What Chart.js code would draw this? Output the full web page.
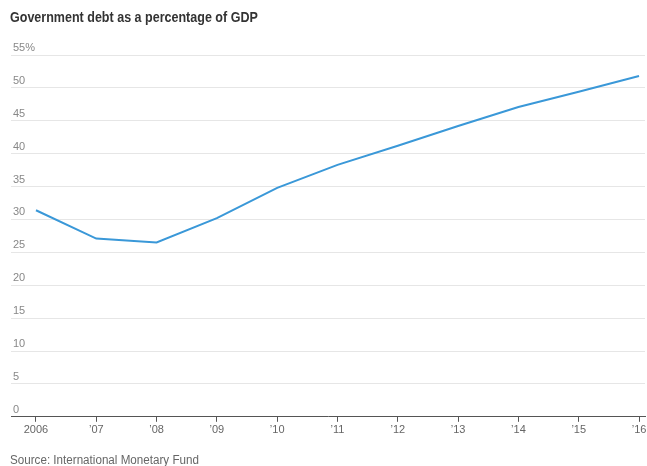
<!DOCTYPE html>
<html>
<head>
<meta charset="utf-8">
<script src="https://cdn.jsdelivr.net/npm/chart.js@4/dist/chart.umd.min.js"></script>
<style>
  html, body { margin: 0; padding: 0; background: #fff; }
  #wrap { position: relative; width: 647px; height: 466px; overflow: hidden; }
  #chartBox { position: absolute; left: 0; top: 0; width: 647px; height: 466px; }
  #title { position: absolute; left: 10px; top: 8px; font-family: "Liberation Sans", sans-serif;
           font-weight: bold; font-size: 15px; color: #333; white-space: nowrap;
           transform: scaleX(0.835); transform-origin: left top; }
  #source { position: absolute; left: 10px; top: 453px; font-family: "Liberation Sans", sans-serif;
            font-size: 12px; color: #666; white-space: nowrap;
            transform: scaleX(0.97); transform-origin: left top; }
</style>
</head>
<body>
<div id="wrap">
  <div id="chartBox"><canvas id="c" width="647" height="466"></canvas></div>
  <div id="title">Government debt as a percentage of GDP</div>
  <div id="source">Source: International Monetary Fund</div>
</div>
<script>
// Years on the horizontal axis and their tick labels
const years = [2006, 2007, 2008, 2009, 2010, 2011, 2012, 2013, 2014, 2015, 2016];
const yearLabels = ["2006", "\u201907", "\u201908", "\u201909", "\u201910", "\u201911", "\u201912", "\u201913", "\u201914", "\u201915", "\u201916"];
// Government debt, percent of GDP
const debtPct = [31.4, 27.1, 26.5, 30.2, 34.8, 38.3, 41.2, 44.2, 47.1, 49.4, 51.8];
// Value-axis ticks
const yTicks = [0, 5, 10, 15, 20, 25, 30, 35, 40, 45, 50, 55];

const tickFont = { family: '"Liberation Sans", sans-serif', size: 11 };

new Chart(document.getElementById('c'), {
  type: 'line',
  data: {
    datasets: [{
      data: years.map((y, i) => ({ x: y, y: debtPct[i] })),
      borderColor: '#3a98d8',
      borderWidth: 2,
      pointRadius: 0,
      tension: 0,
      fill: false
    }]
  },
  options: {
    responsive: false,
    animation: false,
    layout: { padding: { top: 55, left: 7, right: 2, bottom: 27 } },
    plugins: { legend: { display: false }, tooltip: { enabled: false } },
    scales: {
      x: {
        type: 'linear',
        min: 2005.586,
        max: 2016.099,
        afterBuildTicks: (axis) => { axis.ticks = years.map(v => ({ value: v })); },
        // the last year label may sit close to the edge; keep the plot full width
        afterFit: (axis) => { axis.paddingRight = 0; axis.paddingLeft = 0; },
        ticks: {
          autoSkip: false,
          maxRotation: 0,
          color: '#666',
          font: tickFont,
          padding: 2,
          callback: (v) => yearLabels[years.indexOf(v)]
        },
        grid: { display: true, drawOnChartArea: false, drawTicks: true, tickLength: 5, color: '#555' },
        border: { display: true, color: '#555', width: 1 }
      },
      y: {
        min: 0,
        max: 55,
        afterBuildTicks: (axis) => { axis.ticks = yTicks.map(v => ({ value: v })); },
        ticks: {
          mirror: true,
          labelOffset: -7,
          padding: 2,
          color: '#888',
          font: tickFont,
          callback: (v) => v === 55 ? '55%' : String(v)
        },
        grid: { color: '#e6e6e6', drawTicks: false },
        border: { display: false }
      }
    }
  }
});
</script>
</body>
</html>
